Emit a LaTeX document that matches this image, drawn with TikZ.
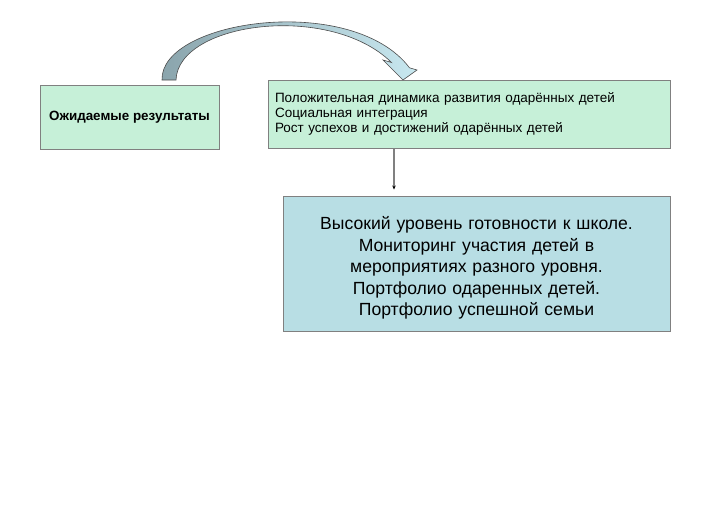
\documentclass[tikz,border=0pt]{standalone}
\usepackage{fontspec}
\setmainfont{Liberation Sans}
\usetikzlibrary{arrows.meta}
\definecolor{mintfill}{RGB}{198,240,216}
\definecolor{bluefill}{RGB}{184,222,228}
\definecolor{boxline}{RGB}{128,128,128}
\definecolor{arcdark}{RGB}{138,164,172}
\definecolor{arclight}{RGB}{200,232,240}
\begin{document}
\begin{tikzpicture}[x=1pt,y=-1pt]

%
% Styles
%
\tikzstyle{box} = [rectangle,draw=boxline,line width=0.9pt,inner sep=0pt]
\tikzstyle{link} = [draw=boxline,line width=1.2pt,-{Stealth[length=4pt,width=3.5pt,color=black]}]

\fill[white] (0,0) rectangle (720,509);
\useasboundingbox (0,0) rectangle (720,509);

\node[box,fill=mintfill,minimum width=179pt,minimum height=64pt,
      font=\fontsize{13.4}{15}\selectfont\bfseries] (res) at (129.5,117)
  {\raisebox{-2pt}{Ожидаемые результаты}};
\node[box,fill=mintfill,minimum width=402pt,minimum height=68pt,
      text width=388pt,align=left,font=\fontsize{13.5}{15.2}\selectfont] (eff) at (469,114)
  {Положительная динамика развития одарённых детей\\
   Социальная интеграция\\
   Рост успехов и достижений одарённых детей};
\node[box,fill=bluefill,minimum width=387pt,minimum height=135pt,
      text width=380pt,align=center,font=\fontsize{17.6}{21.5}\selectfont] (mon) at (476.5,263.5)
  {\rule{0pt}{22pt}Высокий уровень готовности к школе.\\
   Мониторинг участия детей в\\
   мероприятиях разного уровня.\\
   Портфолио одаренных детей.\\
   Портфолио успешной семьи};

\coordinate (ax) at (394,0);
\draw[link] (ax |- eff.south) -- ([yshift=6pt]ax |- mon.north);

% curved block arrow
\path[draw=black!70,line width=0.6pt,left color=arcdark,right color=arclight]
  (162,80) .. controls (160,20) and (352,-8) .. (409.5,67.8)
  -- (417,70) -- (403,80) -- (383,60) -- (391.5,62.5)
  .. controls (330,2) and (178,22) .. (176,80) -- cycle;

\end{tikzpicture}
\end{document}
